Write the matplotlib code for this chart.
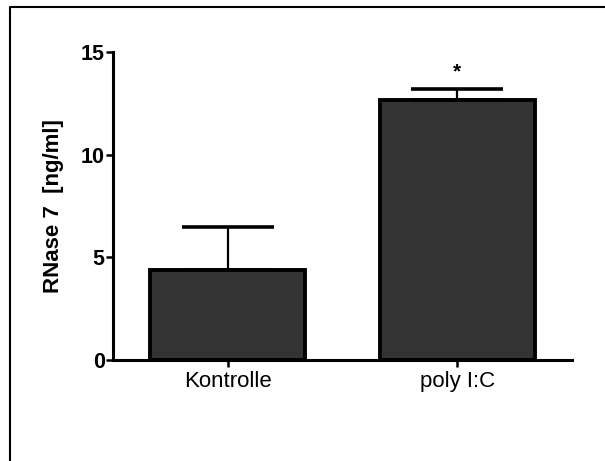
import matplotlib
matplotlib.use("Agg")
import matplotlib.pyplot as plt
from matplotlib.lines import Line2D

groups = ["Kontrolle", "poly I:C"]
means = [4.4, 12.65]
errs = [2.1, 0.55]
ylabel = "RNase 7  [ng/ml]"

plt.rcParams['font.family'] = ['Liberation Sans', 'DejaVu Sans']

fig = plt.figure(figsize=(6.05, 4.61), dpi=100)
ax = fig.add_axes([113/605, 101/461, 459/605, 308/461])

x = list(range(len(groups)))
ax.bar(x, means, width=0.675, color='#333333', edgecolor='black', linewidth=2.8, zorder=2)
ax.errorbar(x, means, yerr=[[0]*len(errs), errs], fmt='none', ecolor='black',
            elinewidth=1.6, capsize=33, capthick=2.6, zorder=1)
ax.text(1, means[1] + errs[1] + 0.35, "*", ha='center', va='bottom', fontsize=15, fontweight='bold')

ax.set_xlim(-0.5, 1.5)
ax.set_ylim(0, 15)
ax.set_yticks([0, 5, 10, 15])
ax.set_xticks(x)
ax.set_xticklabels(groups, fontsize=16)
for t in ax.get_yticklabels():
    t.set_fontweight('bold')
    t.set_fontsize(15.5)
ax.set_ylabel(ylabel, fontsize=16, fontweight='bold', labelpad=12)

for s in ['top', 'right']:
    ax.spines[s].set_visible(False)
for s in ['left', 'bottom']:
    ax.spines[s].set_linewidth(2.2)
ax.tick_params(width=1.8, length=5, pad=1)
ax.tick_params(axis='x', pad=3)

# partial frame round the figure (left and top edges)
fig.add_artist(Line2D([9.5/605, 9.5/605, 1], [0, 1 - 7/461, 1 - 7/461], color='black', linewidth=1.5))

fig.savefig("out.png", dpi=100)
